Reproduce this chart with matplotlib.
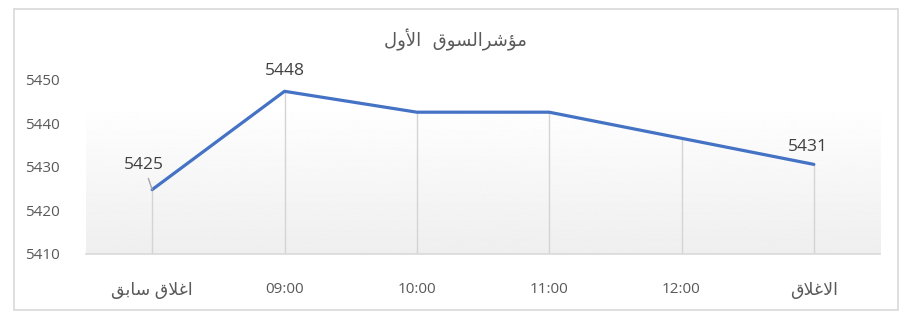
import matplotlib
matplotlib.use("Agg")
import matplotlib.pyplot as plt
import numpy as np
from matplotlib.patches import Rectangle

# Arabic text pre-shaped into presentation forms, in visual (left-to-right) order
title_text = "\uFEDD\uFEED\uFEF7\uFE8D  \uFED5\uFEEE\uFEB4\uFEDF\uFE8D\uFEAE\uFEB7\uFE86\uFEE3"   # مؤشرالسوق الأول
categories = [
    "\uFED6\uFE91\uFE8E\uFEB3 \uFED5\uFEFC\uFECF\uFE8D",   # اغلاق سابق
    "09:00", "10:00", "11:00", "12:00",
    "\uFED5\uFEFC\uFECF\uFEFB\uFE8D",                      # الاغلاق
]
values = [5424.8, 5447.4, 5442.6, 5442.6, 5436.6, 5430.6]
label_idx = [0, 1, 5]
label_text = ["5425", "5448", "5431"]
yticks = [5410, 5420, 5430, 5440, 5450]

W, H = 913, 322
fig = plt.figure(figsize=(W / 100, H / 100), dpi=100)
fig.patch.set_facecolor("white")

# outer border
fig.patches.append(Rectangle((13.5 / W, 1 - 310 / H), (898 - 13.5) / W, (310 - 9) / H,
                             transform=fig.transFigure, fill=False,
                             edgecolor="#d9d9d9", linewidth=1.2))

ax_left, ax_right = 86, 880
ax_top, ax_bot = 80, 254
ax = fig.add_axes([ax_left / W, 1 - ax_bot / H, (ax_right - ax_left) / W, (ax_bot - ax_top) / H])
ax.set_facecolor("none")

x = np.arange(len(categories))
ax.set_xlim(-0.5, len(categories) - 0.5)
ax.set_ylim(5410, 5450)

# gradient plot-area background
grad_top = (ax_bot - 102) / (ax_bot - ax_top)
grad = np.linspace(0.935, 1.0, 256).reshape(-1, 1)
ax.imshow(grad, cmap="gray", vmin=0, vmax=1, aspect="auto",
          extent=[0, 1, 0, grad_top], transform=ax.transAxes, origin="lower", zorder=0)

# drop lines
ax.vlines(x, 5410, values, colors="#d4d4d4", linewidth=1.0, zorder=1)

ax.plot(x, values, color="#4472C4", linewidth=2.3, solid_capstyle="round", zorder=3)

num_font = ["Open Sans", "DejaVu Sans"]
for i, t in zip(label_idx, label_text):
    if i == 0:
        ax.annotate(t, xy=(x[i], values[i]), xytext=(-6, 12), textcoords="offset points",
                    ha="center", va="bottom", fontsize=12.5, color="#404040", family=num_font,
                    arrowprops=dict(arrowstyle="-", color="#a6a6a6", lw=1.0,
                                    shrinkA=2, shrinkB=0))
    else:
        ax.annotate(t, xy=(x[i], values[i]), xytext=(-4 if i == 5 else 0, 7 if i == 5 else 9),
                    textcoords="offset points", ha="center", va="bottom",
                    fontsize=12.5, color="#404040", family=num_font)

for s in ["top", "right", "left"]:
    ax.spines[s].set_visible(False)
ax.spines["bottom"].set_color("#d9d9d9")
ax.spines["bottom"].set_linewidth(1.2)

ax.set_xticks(x)
ax.set_xticklabels(categories, family=num_font, fontsize=11, color="#595959")
for lbl in ax.get_xticklabels():
    if ":" not in lbl.get_text():
        lbl.set_fontsize(12.5)
ax.set_yticks(yticks)
ax.set_yticklabels([str(v) for v in yticks], family=num_font, fontsize=11, color="#595959")
ax.tick_params(axis="both", length=0)
ax.tick_params(axis="x", pad=20)
ax.tick_params(axis="y", pad=19)

fig.text(455 / W, 1 - 40 / H, title_text, ha="center", va="center",
         fontsize=13, color="#595959", family=["DejaVu Sans"])

fig.savefig("out.png", dpi=100, facecolor="white")
